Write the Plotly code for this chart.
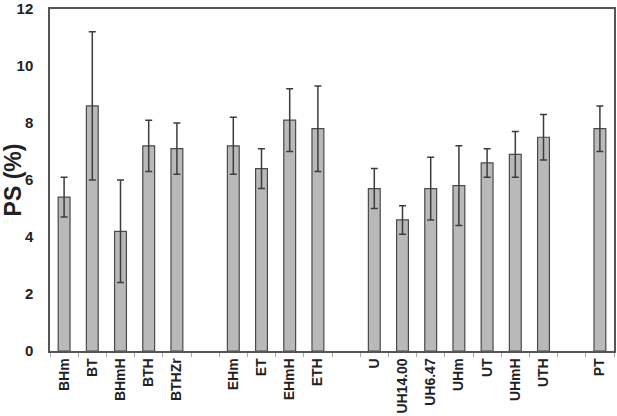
import plotly.graph_objects as go

# categories; blank names act as spacers between groups
categories = ["BHm", "BT", "BHmH", "BTH", "BTHZr", " ",
              "EHm", "ET", "EHmH", "ETH", "  ",
              "U", "UH14.00", "UH6.47", "UHm", "UT", "UHmH", "UTH", "   ",
              "PT"]
ps_values = [5.4, 8.6, 4.2, 7.2, 7.1, None,
             7.2, 6.4, 8.1, 7.8, None,
             5.7, 4.6, 5.7, 5.8, 6.6, 6.9, 7.5, None,
             7.8]
ps_errors = [0.7, 2.6, 1.8, 0.9, 0.9, None,
             1.0, 0.7, 1.1, 1.5, None,
             0.7, 0.5, 1.1, 1.4, 0.5, 0.8, 0.8, None,
             0.8]

fig = go.Figure(
    go.Bar(
        x=categories,
        y=ps_values,
        marker=dict(color="#b9b9b9", line=dict(color="#4a4a4a", width=1.2)),
        error_y=dict(type="data", array=ps_errors, visible=True,
                     color="#3c3c3c", thickness=1.5, width=3.5),
        showlegend=False,
    )
)

fig.update_layout(
    width=617,
    height=416,
    paper_bgcolor="white",
    plot_bgcolor="white",
    bargap=0.58,
    margin=dict(l=50, r=3, t=9, b=65, autoexpand=False),
    font=dict(family="Liberation Sans, Arial, sans-serif", color="#222222"),
    xaxis=dict(
        type="category",
        categoryorder="array",
        categoryarray=categories,
        tickangle=-90,
        tickfont=dict(size=14, weight="bold"),
        ticks="outside",
        tickson="boundaries",
        ticklen=4,
        tickcolor="#aaaaaa",
        ticklabeloverflow="allow",
        showline=True,
        linecolor="#555555",
        linewidth=1.5,
        mirror=True,
        showgrid=False,
    ),
    yaxis=dict(
        range=[0, 12],
        dtick=2,
        tickfont=dict(size=15, weight="bold"),
        ticks="",
        ticklabelstandoff=12,
        ticklabeloverflow="allow",
        title=dict(text="<b>PS (%)</b>", font=dict(size=23), standoff=2),
        showline=True,
        linecolor="#555555",
        linewidth=1.5,
        mirror=True,
        showgrid=False,
        zeroline=False,
    ),
)

fig.write_html(
    "out.html",
    config={"displayModeBar": False},
    post_script="document.body.style.margin='0';",
)
